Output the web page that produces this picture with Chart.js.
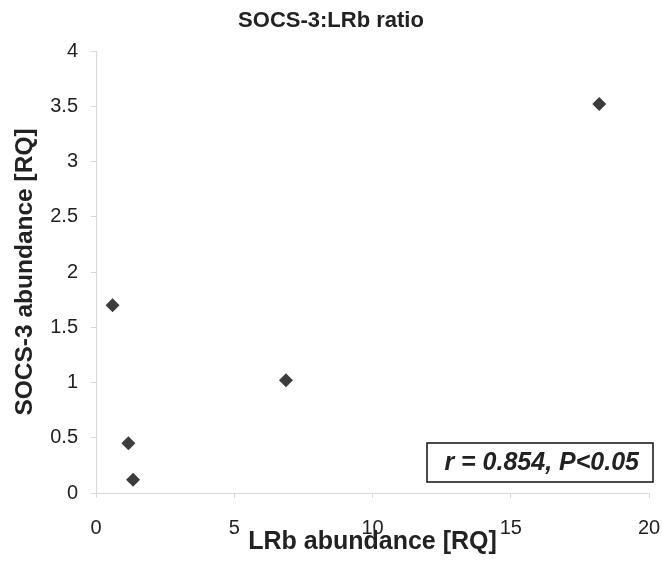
<!DOCTYPE html>
<html>
<head>
<meta charset="utf-8">
<script src="https://cdn.jsdelivr.net/npm/chart.js@4/dist/chart.umd.min.js"></script>
<style>
  body { margin: 0; background: #fff; }
  canvas { display: block; }
</style>
</head>
<body>
<canvas id="chart" width="662" height="564"></canvas>
<script>
// values
const lrbAbundance = [0.6, 1.17, 1.34, 6.87, 18.2];
const socs3Abundance = [1.7, 0.45, 0.12, 1.02, 3.52];
const xTicks = [0, 5, 10, 15, 20];
const yTicks = [0, 0.5, 1, 1.5, 2, 2.5, 3, 3.5, 4];
const titleText = "SOCS-3:LRb ratio";
const xTitle = "LRb abundance [RQ]";
const yTitle = "SOCS-3 abundance [RQ]";
const statsText = "r = 0.854, P<0.05";

const FONT = "'Liberation Sans', Arial, sans-serif";
const axisGrey = "#d9d9d9";
const textColor = "#222";

// box with r / P value, bottom right of plot
const statsBox = {
  id: "statsBox",
  afterDraw(chart) {
    const { ctx, chartArea } = chart;
    const left = chartArea.right - 222;
    const right = chartArea.right + 4;
    const top = chartArea.bottom - 50;
    const bottom = chartArea.bottom - 11;
    ctx.save();
    ctx.fillStyle = "#fff";
    ctx.fillRect(left, top, right - left, bottom - top);
    ctx.strokeStyle = "#111";
    ctx.lineWidth = 1.5;
    ctx.strokeRect(left, top, right - left, bottom - top);
    ctx.fillStyle = textColor;
    ctx.font = "italic bold 25px " + FONT;
    ctx.textAlign = "right";
    ctx.textBaseline = "middle";
    ctx.fillText(statsText, right - 14, (top + bottom) / 2 + 1);
    ctx.restore();
  },
};

const ctx = document.getElementById("chart").getContext("2d");
const myChart = new Chart(ctx, {
  type: "scatter",
  data: {
    datasets: [
      {
        data: lrbAbundance.map((x, i) => ({ x: x, y: socs3Abundance[i] })),
        pointStyle: "rectRot",
        pointRadius: 7,
        pointHoverRadius: 7,
        backgroundColor: "#3c3c3c",
        borderColor: "#3c3c3c",
        borderWidth: 0,
      },
    ],
  },
  options: {
    responsive: false,
    animation: false,
    layout: { padding: 0 },
    plugins: {
      legend: { display: false },
      tooltip: { enabled: false },
      title: {
        display: true,
        text: titleText,
        color: textColor,
        font: { family: FONT, size: 22, weight: "bold", lineHeight: 1.2 },
        padding: { top: 8, bottom: 16.6 },
      },
    },
    scales: {
      x: {
        type: "linear",
        min: 0,
        max: 20,
        afterBuildTicks(scale) {
          scale.ticks = xTicks.map((v) => ({ value: v }));
        },
        afterFit(scale) {
          scale.height = 71;
          scale.paddingLeft = 0;
          scale.paddingRight = 13;
        },
        ticks: {
          color: textColor,
          font: { family: FONT, size: 20 },
          padding: 18,
          maxRotation: 0,
        },
        grid: {
          drawOnChartArea: false,
          drawTicks: true,
          tickLength: 5,
          color: axisGrey,
        },
        border: { color: axisGrey, width: 1 },
        title: {
          display: true,
          text: xTitle,
          color: textColor,
          font: { family: FONT, size: 25, weight: "bold", lineHeight: 1.2 },
          padding: { top: 0, bottom: 7 },
        },
      },
      y: {
        type: "linear",
        min: 0,
        max: 4,
        afterBuildTicks(scale) {
          scale.ticks = yTicks.map((v) => ({ value: v }));
        },
        afterFit(scale) {
          scale.width = 96;
        },
        ticks: {
          color: textColor,
          font: { family: FONT, size: 20 },
          padding: 13,
          callback: (v) => String(v),
        },
        grid: {
          drawOnChartArea: false,
          drawTicks: true,
          tickLength: 5,
          color: axisGrey,
        },
        border: { color: axisGrey, width: 1 },
        title: {
          display: true,
          text: yTitle,
          color: textColor,
          font: { family: FONT, size: 24.5, weight: "bold", lineHeight: 1.2 },
          padding: { top: 11, bottom: 0 },
        },
      },
    },
  },
  plugins: [statsBox],
});
</script>
</body>
</html>
